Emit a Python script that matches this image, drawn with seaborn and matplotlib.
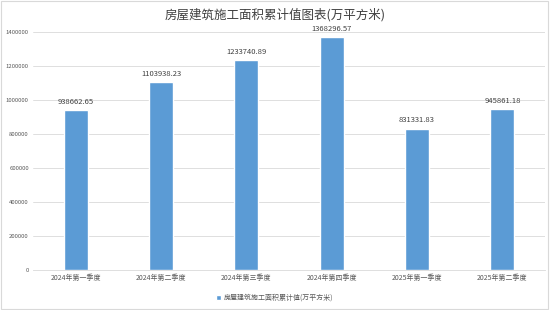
import matplotlib
matplotlib.use("Agg")
import matplotlib.pyplot as plt
import seaborn as sns
import pandas as pd

categories = ["2024年第一季度", "2024年第二季度", "2024年第三季度", "2024年第四季度", "2025年第一季度", "2025年第二季度"]
values = [938662.65, 1103938.23, 1233740.89, 1368296.57, 831331.83, 945861.18]
series_name = "房屋建筑施工面积累计值(万平方米)"
title = "房屋建筑施工面积累计值图表(万平方米)"
yticks = [0, 200000, 400000, 600000, 800000, 1000000, 1200000, 1400000]

sns.set_theme(style="white")
plt.rcParams['font.family'] = ['Noto Sans CJK SC', 'DejaVu Sans']

df = pd.DataFrame({"cat": categories, "val": values})

fig = plt.figure(figsize=(5.5, 3.1), dpi=100)
ax = fig.add_axes([0.06, 0.129, 0.931, 0.768])
bar_color = "#5B9BD5"
sns.barplot(data=df, x="cat", y="val", color=bar_color, width=0.28, ax=ax,
            saturation=1, label=series_name)
handles, labels = ax.get_legend_handles_labels()
if ax.get_legend() is not None:
    ax.get_legend().remove()

ax.set_ylim(0, 1400000)
ax.set_yticks(yticks)
ax.set_yticklabels([str(v) for v in yticks], fontsize=4.3, color="#595959")
ax.set_xticks(range(len(categories)))
ax.set_xticklabels(categories, fontsize=5, color="#595959")
ax.tick_params(axis="both", length=0, pad=3)
ax.set_xlabel("")
ax.set_ylabel("")
ax.yaxis.grid(True, color="#D9D9D9", linewidth=0.6)
ax.set_axisbelow(True)
for s in ["top", "right", "left"]:
    ax.spines[s].set_visible(False)
ax.spines["bottom"].set_color("#D9D9D9")
ax.spines["bottom"].set_linewidth(0.6)

for i, v in enumerate(values):
    ax.text(i, v + 25000, f"{v:.2f}", ha="center", va="bottom", fontsize=5.5, color="#404040")

fig.text(0.5, 0.952, title, ha="center", va="center", fontsize=9, color="#404040")

leg = fig.legend(handles, labels, loc="center", bbox_to_anchor=(0.5, 0.04), frameon=False,
                 fontsize=5, handlelength=0.7, handleheight=0.7, handletextpad=0.4)
for t in leg.get_texts():
    t.set_color("#595959")

border = plt.Rectangle((0.002, 0.003), 0.995, 0.994, transform=fig.transFigure,
                       fill=False, edgecolor="#D9D9D9", linewidth=0.8)
fig.patches.append(border)

fig.savefig("out.png", dpi=100)
